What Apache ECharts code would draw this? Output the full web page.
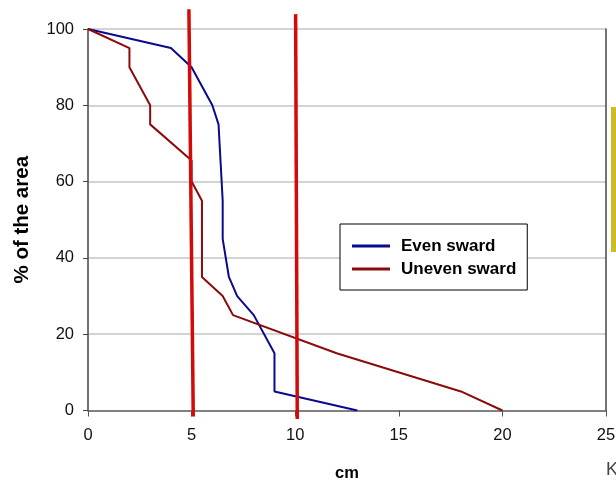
<!DOCTYPE html>
<html>
<head>
<meta charset="utf-8">
<script src="https://cdn.jsdelivr.net/npm/echarts@6/dist/echarts.min.js"></script>
<style>
html,body{margin:0;padding:0;background:#fff;}
#chart{width:616px;height:481px;}
</style>
</head>
<body>
<div id="chart"></div>
<script>
// Data (x: sward height in cm, y: % of the area)
const evenSward = [[0,100],[4,95],[5,90],[6,80],[6.3,75],[6.4,65],[6.5,55],[6.5,45],[6.8,35],[7.2,30],[8,25],[9,15],[9,5],[13,0]];
const unevenSward = [[0,100],[2,95],[2,90],[3,80],[3,75],[5,65.5],[5,60],[5.5,55],[5.5,35],[6.5,30],[7,25],[12,15],[18,5],[20,0]];
// Hand-drawn red reference lines at ~5 cm and ~10 cm
const marker5 = [[4.87,105.2],[5.08,-1.6]];
const marker10 = [[10.02,103.9],[10.1,-2.2]];
const xTicks = [0,5,10,15,20,25];
const yTicks = [0,20,40,60,80,100];

const chart = echarts.init(document.getElementById('chart'), null, {renderer:'canvas'});
const FONT = '"Liberation Sans", Arial, sans-serif';
chart.setOption({
  animation:false,
  backgroundColor:'#fff',
  grid:{left:88,right:10,top:29,bottom:70.5,outerBoundsMode:'none',containLabel:false},
  legend:{
    data:['Even sward','Uneven sward'],
    orient:'vertical',
    left:340, top:224,
    padding:[13,11,12,12],
    itemGap:5,
    itemWidth:38, itemHeight:3,
    icon:'rect',
    borderColor:'#000', borderWidth:1,
    backgroundColor:'#fff',
    textStyle:{fontFamily:FONT,fontSize:17,fontWeight:'bold',color:'#000',lineHeight:18,padding:[0,0,0,6]}
  },
  xAxis:{
    type:'value',min:0,max:25,interval:5,
    name:'cm',nameLocation:'middle',nameGap:54,
    nameTextStyle:{fontFamily:FONT,fontSize:16.5,fontWeight:'bold',color:'#000'},
    axisLine:{show:true,onZero:false,lineStyle:{color:'#666',width:1.5}},
    axisTick:{show:true,inside:false,length:6,lineStyle:{color:'#555'}},
    axisLabel:{fontFamily:FONT,fontSize:16.5,color:'#111',margin:16},
    splitLine:{show:false}
  },
  yAxis:[{
    type:'value',min:0,max:100,interval:20,
    name:'% of the area',nameLocation:'middle',nameGap:55,nameRotate:90,
    nameTextStyle:{fontFamily:FONT,fontSize:20.5,fontWeight:'bold',color:'#000'},
    axisLine:{show:true,lineStyle:{color:'#444',width:1.5}},
    axisTick:{show:true,inside:false,length:5,lineStyle:{color:'#444'}},
    axisLabel:{fontFamily:FONT,fontSize:16.5,color:'#111',margin:14},
    splitLine:{show:true,lineStyle:{color:'#c4c4c4',width:1.5}}
  },{
    type:'value',min:0,max:100,interval:20,position:'right',
    axisLine:{show:true,lineStyle:{color:'#444',width:1.5}},
    axisTick:{show:false},axisLabel:{show:false},splitLine:{show:false}
  }],
  series:[
    {name:'Even sward',type:'line',data:evenSward,showSymbol:false,symbol:'none',
     lineStyle:{color:'#0a0a8c',width:2},itemStyle:{color:'#0a0a8c'},z:3},
    {name:'Uneven sward',type:'line',data:unevenSward,showSymbol:false,symbol:'none',
     lineStyle:{color:'#8b0a0a',width:2},itemStyle:{color:'#8b0a0a'},z:3},
    {name:'m5',type:'line',data:marker5,symbol:'none',clip:false,silent:true,
     lineStyle:{color:'#d40a0a',width:3.5},z:5},
    {name:'m10',type:'line',data:marker10,symbol:'none',clip:false,silent:true,
     lineStyle:{color:'#d40a0a',width:3.5},z:5}
  ],
  graphic:[
    {type:'rect',shape:{x:611,y:107,width:6,height:145},style:{fill:'#cdbb2a'}},
    {type:'text',left:606,top:461,style:{text:'K',font:'18px "Liberation Sans", Arial, sans-serif',fill:'#444'}}
  ]
});
</script>
</body>
</html>
